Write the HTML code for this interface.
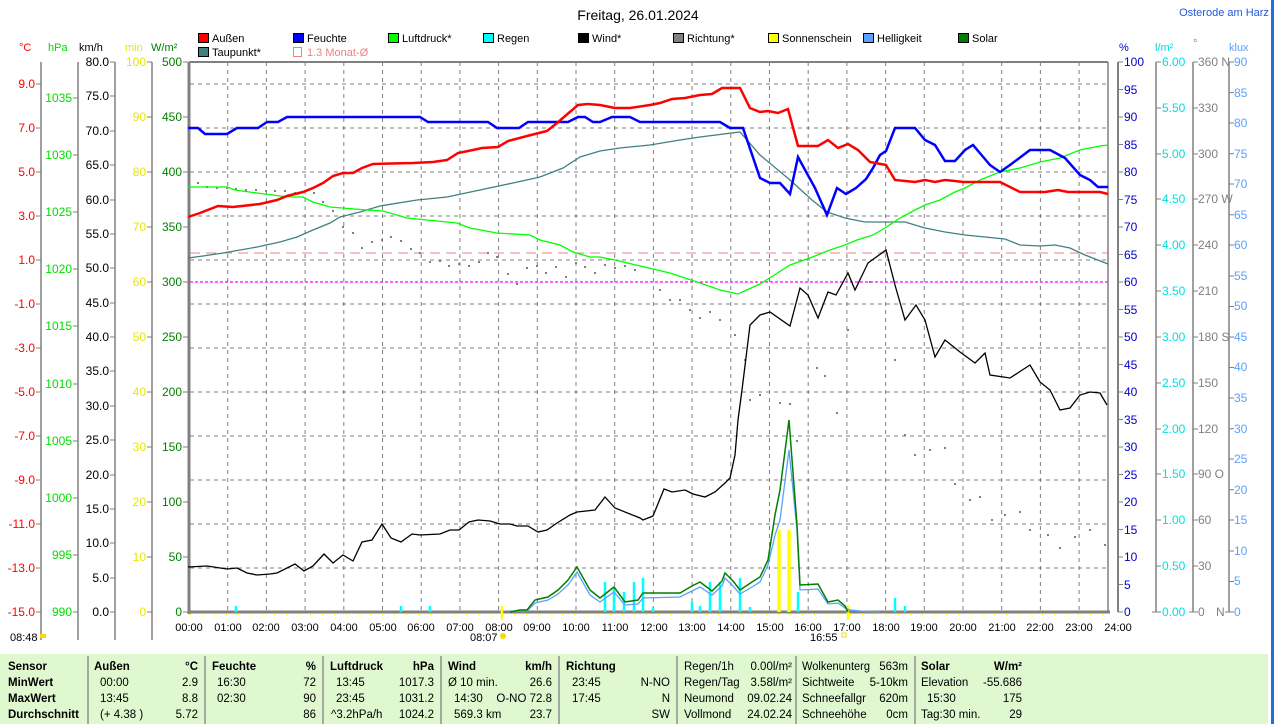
<!DOCTYPE html>
<html><head><meta charset="utf-8"><style>
html,body{margin:0;padding:0;background:#fff;}
svg{display:block;font-family:"Liberation Sans",sans-serif;}
</style></head><body>
<svg width="1274" height="724" viewBox="0 0 1274 724" xmlns="http://www.w3.org/2000/svg">
<rect x="0" y="0" width="1274" height="724" fill="#fff"/>
<rect x="1271" y="0" width="3" height="724" fill="#1e6fe0"/>
<text x="638" y="20" font-size="14" text-anchor="middle" fill="#000">Freitag, 26.01.2024</text>
<text x="1224" y="16" font-size="11" text-anchor="middle" fill="#1e5adc">Osterode am Harz</text>

<!-- legend -->
<g font-size="11" fill="#000">
<rect x="198.5" y="33.5" width="10" height="9" fill="#ff0000" stroke="#000"/><text x="212" y="42">Außen</text>
<rect x="293.5" y="33.5" width="10" height="9" fill="#0000ff" stroke="#000"/><text x="307" y="42">Feuchte</text>
<rect x="388.5" y="33.5" width="10" height="9" fill="#00ff00" stroke="#000"/><text x="402" y="42">Luftdruck*</text>
<rect x="483.5" y="33.5" width="10" height="9" fill="#00ffff" stroke="#000"/><text x="497" y="42">Regen</text>
<rect x="578.5" y="33.5" width="10" height="9" fill="#000000" stroke="#000"/><text x="592" y="42">Wind*</text>
<rect x="673.5" y="33.5" width="10" height="9" fill="#808080" stroke="#000"/><text x="687" y="42">Richtung*</text>
<rect x="768.5" y="33.5" width="10" height="9" fill="#ffff00" stroke="#000"/><text x="782" y="42">Sonnenschein</text>
<rect x="863.5" y="33.5" width="10" height="9" fill="#5aa0ff" stroke="#000"/><text x="877" y="42">Helligkeit</text>
<rect x="958.5" y="33.5" width="10" height="9" fill="#008000" stroke="#000"/><text x="972" y="42">Solar</text>
<rect x="198.5" y="47.5" width="10" height="9" fill="#408080" stroke="#000"/><text x="212" y="56">Taupunkt*</text>
<rect x="293.5" y="47.5" width="8" height="9" fill="none" stroke="#f08080"/><text x="307" y="56" fill="#f08080">1.3 Monat-Ø</text>
</g>

<!-- unit headers -->
<g font-size="11">
<text x="19" y="51" fill="#ff0000">°C</text>
<text x="48" y="51" fill="#00dd00">hPa</text>
<text x="79" y="51" fill="#000">km/h</text>
<text x="125" y="51" fill="#e8e800">min</text>
<text x="151" y="51" fill="#008000">W/m²</text>
<text x="1119" y="51" fill="#0000cc">%</text>
<text x="1155" y="51" fill="#00e0e0">l/m²</text>
<text x="1193" y="47" fill="#808080">°</text>
<text x="1229" y="51" fill="#5aa0ff">klux</text>
</g>

<!-- axis lines -->
<g stroke="#808080" stroke-width="1.5">
<line x1="41" y1="62" x2="41" y2="640"/>
<line x1="78" y1="62" x2="78" y2="640"/>
<line x1="115" y1="62" x2="115" y2="640"/>
<line x1="152" y1="62" x2="152" y2="640"/>
<line x1="1156" y1="62" x2="1156" y2="612"/>
<line x1="1193" y1="62" x2="1193" y2="612"/>
<line x1="1229" y1="62" x2="1229" y2="612"/>
</g>
<line x1="1118" y1="62" x2="1118" y2="612" stroke="#808080" stroke-width="2"/>

<!-- grid -->
<g stroke="#808080" stroke-width="1" stroke-dasharray="4,4">
<line x1="190" y1="84" x2="1108" y2="84"/><line x1="190" y1="128" x2="1108" y2="128"/>
<line x1="190" y1="172" x2="1108" y2="172"/><line x1="190" y1="216" x2="1108" y2="216"/>
<line x1="190" y1="260" x2="1108" y2="260"/><line x1="190" y1="304" x2="1108" y2="304"/>
<line x1="190" y1="348" x2="1108" y2="348"/><line x1="190" y1="392" x2="1108" y2="392"/>
<line x1="190" y1="436" x2="1108" y2="436"/><line x1="190" y1="480" x2="1108" y2="480"/>
<line x1="190" y1="524" x2="1108" y2="524"/><line x1="190" y1="568" x2="1108" y2="568"/>
<line x1="227.7" y1="62" x2="227.7" y2="612"/><line x1="266.4" y1="62" x2="266.4" y2="612"/>
<line x1="305.1" y1="62" x2="305.1" y2="612"/><line x1="343.8" y1="62" x2="343.8" y2="612"/>
<line x1="382.5" y1="62" x2="382.5" y2="612"/><line x1="421.2" y1="62" x2="421.2" y2="612"/>
<line x1="459.9" y1="62" x2="459.9" y2="612"/><line x1="498.6" y1="62" x2="498.6" y2="612"/>
<line x1="537.3" y1="62" x2="537.3" y2="612"/><line x1="576" y1="62" x2="576" y2="612"/>
<line x1="614.7" y1="62" x2="614.7" y2="612"/><line x1="653.4" y1="62" x2="653.4" y2="612"/>
<line x1="692.1" y1="62" x2="692.1" y2="612"/><line x1="730.8" y1="62" x2="730.8" y2="612"/>
<line x1="769.5" y1="62" x2="769.5" y2="612"/><line x1="808.2" y1="62" x2="808.2" y2="612"/>
<line x1="846.9" y1="62" x2="846.9" y2="612"/><line x1="885.6" y1="62" x2="885.6" y2="612"/>
<line x1="924.3" y1="62" x2="924.3" y2="612"/><line x1="963" y1="62" x2="963" y2="612"/>
<line x1="1001.7" y1="62" x2="1001.7" y2="612"/><line x1="1040.4" y1="62" x2="1040.4" y2="612"/>
<line x1="1079.1" y1="62" x2="1079.1" y2="612"/>
</g>
<line x1="190" y1="253" x2="1108" y2="253" stroke="#f08080" stroke-width="1" stroke-dasharray="10,6"/>
<line x1="190" y1="282" x2="1108" y2="282" stroke="#ff00ff" stroke-width="1.2" stroke-dasharray="3,2"/>

<!-- frame -->
<line x1="189" y1="62" x2="1108" y2="62" stroke="#808080" stroke-width="2"/>
<line x1="1108" y1="62" x2="1108" y2="612" stroke="#808080" stroke-width="1.5"/>
<line x1="189" y1="62" x2="189" y2="614" stroke="#808080" stroke-width="3"/>
<line x1="188" y1="612" x2="1110" y2="612" stroke="#808080" stroke-width="3"/>
<line x1="190" y1="614.5" x2="1108" y2="614.5" stroke="#ffff00" stroke-width="1" stroke-dasharray="1,11"/>

<!-- left tick labels -->
<g font-size="12" fill="#ff0000" text-anchor="end">
<text x="35" y="88">9.0</text><text x="35" y="132">7.0</text><text x="35" y="176">5.0</text><text x="35" y="220">3.0</text><text x="35" y="264">1.0</text><text x="35" y="308">-1.0</text><text x="35" y="352">-3.0</text><text x="35" y="396">-5.0</text><text x="35" y="440">-7.0</text><text x="35" y="484">-9.0</text><text x="35" y="528">-11.0</text><text x="35" y="572">-13.0</text><text x="35" y="616">-15.0</text>
</g>
<g stroke="#808080"><path d="M36 84h5M36 128h5M36 172h5M36 216h5M36 260h5M36 304h5M36 348h5M36 392h5M36 436h5M36 480h5M36 524h5M36 568h5M36 612h5"/>
<path d="M73 98h5M73 155h5M73 212h5M73 269h5M73 326h5M73 384h5M73 441h5M73 498h5M73 555h5M73 612h5"/>
<path d="M110 62h5M110 96h5M110 131h5M110 165h5M110 200h5M110 234h5M110 268h5M110 303h5M110 337h5M110 371h5M110 406h5M110 440h5M110 475h5M110 509h5M110 543h5M110 578h5M110 612h5"/>
<path d="M147 62h5M147 117h5M147 172h5M147 227h5M147 282h5M147 337h5M147 392h5M147 447h5M147 502h5M147 557h5M147 612h5"/>
<path d="M183 62h5M183 117h5M183 172h5M183 227h5M183 282h5M183 337h5M183 392h5M183 447h5M183 502h5M183 557h5M183 612h5"/>
</g>
<g font-size="12" fill="#00dd00" text-anchor="end">
<text x="72" y="102">1035</text><text x="72" y="159">1030</text><text x="72" y="216">1025</text><text x="72" y="273">1020</text><text x="72" y="330">1015</text><text x="72" y="388">1010</text><text x="72" y="445">1005</text><text x="72" y="502">1000</text><text x="72" y="559">995</text><text x="72" y="616">990</text>
</g>
<g font-size="12" fill="#000" text-anchor="end">
<text x="109" y="66">80.0</text><text x="109" y="100">75.0</text><text x="109" y="135">70.0</text><text x="109" y="169">65.0</text><text x="109" y="204">60.0</text><text x="109" y="238">55.0</text><text x="109" y="272">50.0</text><text x="109" y="307">45.0</text><text x="109" y="341">40.0</text><text x="109" y="375">35.0</text><text x="109" y="410">30.0</text><text x="109" y="444">25.0</text><text x="109" y="479">20.0</text><text x="109" y="513">15.0</text><text x="109" y="547">10.0</text><text x="109" y="582">5.0</text><text x="109" y="616">0.0</text>
</g>
<g font-size="12" fill="#e8e800" text-anchor="end">
<text x="146" y="66">100</text><text x="146" y="121">90</text><text x="146" y="176">80</text><text x="146" y="231">70</text><text x="146" y="286">60</text><text x="146" y="341">50</text><text x="146" y="396">40</text><text x="146" y="451">30</text><text x="146" y="506">20</text><text x="146" y="561">10</text><text x="146" y="616">0</text>
</g>
<g font-size="12" fill="#008000" text-anchor="end">
<text x="182" y="66">500</text><text x="182" y="121">450</text><text x="182" y="176">400</text><text x="182" y="231">350</text><text x="182" y="286">300</text><text x="182" y="341">250</text><text x="182" y="396">200</text><text x="182" y="451">150</text><text x="182" y="506">100</text><text x="182" y="561">50</text><text x="182" y="616">0</text>
</g>

<!-- right tick labels -->
<g stroke="#808080"><path d="M1118 62h5M1118 89.5h5M1118 117h5M1118 144.5h5M1118 172h5M1118 199.5h5M1118 227h5M1118 254.5h5M1118 282h5M1118 309.5h5M1118 337h5M1118 364.5h5M1118 392h5M1118 419.5h5M1118 447h5M1118 474.5h5M1118 502h5M1118 529.5h5M1118 557h5M1118 584.5h5M1118 612h5"/>
<path d="M1156 62h5M1156 108h5M1156 154h5M1156 199h5M1156 245h5M1156 291h5M1156 337h5M1156 383h5M1156 429h5M1156 474h5M1156 520h5M1156 566h5M1152 612h9"/>
<path d="M1193 62h5M1193 108h5M1193 154h5M1193 199h5M1193 245h5M1193 291h5M1193 337h5M1193 383h5M1193 429h5M1193 474h5M1193 520h5M1193 566h5M1189 612h9"/>
<path d="M1229 62h5M1229 92.6h5M1229 123h5M1229 153.7h5M1229 184h5M1229 214.8h5M1229 245h5M1229 276h5M1229 306.5h5M1229 337h5M1229 367.5h5M1229 398h5M1229 428.7h5M1229 459h5M1229 489.8h5M1229 520h5M1229 551h5M1229 581.5h5M1225 612h9"/>
</g>
<g font-size="12" fill="#0000cc">
<text x="1124" y="66">100</text><text x="1124" y="94">95</text><text x="1124" y="121">90</text><text x="1124" y="149">85</text><text x="1124" y="176">80</text><text x="1124" y="204">75</text><text x="1124" y="231">70</text><text x="1124" y="259">65</text><text x="1124" y="286">60</text><text x="1124" y="314">55</text><text x="1124" y="341">50</text><text x="1124" y="369">45</text><text x="1124" y="396">40</text><text x="1124" y="424">35</text><text x="1124" y="451">30</text><text x="1124" y="479">25</text><text x="1124" y="506">20</text><text x="1124" y="534">15</text><text x="1124" y="561">10</text><text x="1124" y="589">5</text><text x="1124" y="616">0</text>
</g>
<g font-size="12" fill="#00e0e0">
<text x="1162" y="66">6.00</text><text x="1162" y="112">5.50</text><text x="1162" y="158">5.00</text><text x="1162" y="203">4.50</text><text x="1162" y="249">4.00</text><text x="1162" y="295">3.50</text><text x="1162" y="341">3.00</text><text x="1162" y="387">2.50</text><text x="1162" y="433">2.00</text><text x="1162" y="478">1.50</text><text x="1162" y="524">1.00</text><text x="1162" y="570">0.50</text><text x="1162" y="616">0.00</text>
</g>
<g font-size="12" fill="#808080">
<text x="1198" y="66">360 N</text><text x="1198" y="112">330</text><text x="1198" y="158">300</text><text x="1198" y="203">270 W</text><text x="1198" y="249">240</text><text x="1198" y="295">210</text><text x="1198" y="341">180 S</text><text x="1198" y="387">150</text><text x="1198" y="433">120</text><text x="1198" y="478">90  O</text><text x="1198" y="524">60</text><text x="1198" y="570">30</text><text x="1198" y="616">0</text><text x="1216" y="616">N</text>
</g>
<g font-size="12" fill="#5aa0ff">
<text x="1234" y="66">90</text><text x="1234" y="97">85</text><text x="1234" y="127">80</text><text x="1234" y="158">75</text><text x="1234" y="188">70</text><text x="1234" y="219">65</text><text x="1234" y="249">60</text><text x="1234" y="280">55</text><text x="1234" y="310">50</text><text x="1234" y="341">45</text><text x="1234" y="371">40</text><text x="1234" y="402">35</text><text x="1234" y="433">30</text><text x="1234" y="463">25</text><text x="1234" y="494">20</text><text x="1234" y="524">15</text><text x="1234" y="555">10</text><text x="1234" y="585">5</text><text x="1234" y="616">0</text>
</g>

<!-- rain bars -->
<g stroke="#00ffff" stroke-width="2.5">
<path d="M236 612V606M401 612V606M430 612V606M605 612V582M614 612V587M624 612V592M634 612V582M643 612V578M653 612V607M692 612V602M700 612V606M710 612V582M720 612V582M740 612V578M750 612V607M798 612V592M895 612V598M905 612V606"/>
</g>
<g stroke="#ffff00" stroke-width="3.5"><path d="M779 612V530M789 612V530"/></g>
<g stroke="#ffff00" stroke-width="2.5"><path d="M502 606V620M848 606V620"/></g>

<!-- direction dots -->
<g fill="#808080">
<rect x="197" y="182" width="2" height="2"/><rect x="206" y="186" width="2" height="2"/><rect x="216" y="187" width="2" height="2"/><rect x="226" y="187" width="2" height="2"/><rect x="235" y="188" width="2" height="2"/><rect x="245" y="189" width="2" height="2"/><rect x="255" y="189" width="2" height="2"/><rect x="265" y="190" width="2" height="2"/><rect x="274" y="190" width="2" height="2"/><rect x="284" y="190" width="2" height="2"/><rect x="294" y="192" width="2" height="2"/><rect x="313" y="192" width="2" height="2"/><rect x="322" y="201" width="2" height="2"/><rect x="332" y="210" width="2" height="2"/><rect x="342" y="226" width="2" height="2"/><rect x="352" y="232" width="2" height="2"/><rect x="361" y="247" width="2" height="2"/><rect x="371" y="241" width="2" height="2"/><rect x="381" y="239" width="2" height="2"/><rect x="390" y="236" width="2" height="2"/><rect x="400" y="240" width="2" height="2"/><rect x="410" y="248" width="2" height="2"/><rect x="419" y="252" width="2" height="2"/><rect x="429" y="261" width="2" height="2"/><rect x="439" y="260" width="2" height="2"/><rect x="448" y="265" width="2" height="2"/><rect x="458" y="263" width="2" height="2"/><rect x="468" y="265" width="2" height="2"/><rect x="478" y="261" width="2" height="2"/><rect x="487" y="252" width="2" height="2"/><rect x="496" y="256" width="2" height="2"/><rect x="507" y="273" width="2" height="2"/><rect x="516" y="283" width="2" height="2"/><rect x="526" y="267" width="2" height="2"/><rect x="536" y="265" width="2" height="2"/><rect x="545" y="272" width="2" height="2"/><rect x="555" y="266" width="2" height="2"/><rect x="565" y="276" width="2" height="2"/><rect x="575" y="262" width="2" height="2"/><rect x="584" y="266" width="2" height="2"/><rect x="594" y="272" width="2" height="2"/><rect x="604" y="264" width="2" height="2"/><rect x="614" y="267" width="2" height="2"/><rect x="624" y="265" width="2" height="2"/><rect x="634" y="269" width="2" height="2"/><rect x="659" y="289" width="2" height="2"/><rect x="669" y="299" width="2" height="2"/><rect x="679" y="299" width="2" height="2"/><rect x="689" y="309" width="2" height="2"/><rect x="699" y="317" width="2" height="2"/><rect x="709" y="311" width="2" height="2"/><rect x="719" y="319" width="2" height="2"/><rect x="734" y="334" width="2" height="2"/><rect x="744" y="359" width="2" height="2"/><rect x="749" y="399" width="2" height="2"/><rect x="759" y="394" width="2" height="2"/><rect x="779" y="402" width="2" height="2"/><rect x="789" y="403" width="2" height="2"/><rect x="796" y="440" width="2" height="2"/><rect x="816" y="367" width="2" height="2"/><rect x="824" y="375" width="2" height="2"/><rect x="836" y="412" width="2" height="2"/><rect x="847" y="329" width="2" height="2"/><rect x="869" y="281" width="2" height="2"/><rect x="894" y="359" width="2" height="2"/><rect x="904" y="434" width="2" height="2"/><rect x="914" y="454" width="2" height="2"/><rect x="929" y="449" width="2" height="2"/><rect x="944" y="447" width="2" height="2"/><rect x="954" y="483" width="2" height="2"/><rect x="969" y="499" width="2" height="2"/><rect x="979" y="496" width="2" height="2"/><rect x="991" y="519" width="2" height="2"/><rect x="1004" y="514" width="2" height="2"/><rect x="1019" y="511" width="2" height="2"/><rect x="1029" y="529" width="2" height="2"/><rect x="1047" y="534" width="2" height="2"/><rect x="1059" y="547" width="2" height="2"/><rect x="1074" y="536" width="2" height="2"/><rect x="1089" y="529" width="2" height="2"/><rect x="1104" y="544" width="2" height="2"/>
</g>

<!-- Helligkeit -->
<polyline fill="none" stroke="#5aa0ff" stroke-width="1.3" points="510,612 520,611 527,611 535,603 548,600 558,594 568,585 577,572 590,595 600,602 614,592 625,605 638,604 643,598 680,597 692,591 700,587 712,595 722,586 725,578 733,586 740,594 752,587 760,582 768,565 775,535 780,520 789,450 797,530 800,590 818,589 828,604 838,603 845,608 850,610 860,611 880,612"/>
<!-- Solar -->
<polyline fill="none" stroke="#008000" stroke-width="1.5" points="510,612 520,610 527,610 535,600 548,597 558,590 568,580 577,567 590,590 600,598 614,587 625,602 638,600 643,593 680,593 692,586 700,582 712,591 722,581 725,573 733,581 740,590 752,582 760,577 768,560 775,515 780,490 789,420 797,525 800,585 818,584 828,602 838,600 845,606 848,612"/>

<!-- Taupunkt -->
<polyline fill="none" stroke="#408080" stroke-width="1.3" points="188,258 203,256 223,253 257,247 280,242 297,237 313,230 330,223 340,217 360,212 380,206 417,200 447,197 480,190 513,183 540,177 563,168 580,157 600,151 620,148 650,145 680,140 700,137 740,132 760,155 790,180 812,200 827,212 845,218 865,222 885,222 905,222 925,228 945,232 965,235 985,237 1005,239 1020,245 1040,246 1055,245 1070,248 1085,255 1108,264"/>
<!-- Luftdruck -->
<polyline fill="none" stroke="#00ff00" stroke-width="1.3" points="188,187 227,187 235,190 257,193 280,196 293,197 303,197 313,202 330,207 367,210 383,211 407,218 447,222 457,223 470,228 497,233 530,235 540,240 560,245 573,252 590,257 600,257 615,260 640,266 670,273 700,283 720,290 738,294 760,284 768,279 790,265 810,258 830,250 845,245 857,240 873,235 885,228 900,218 915,210 925,205 940,200 955,192 965,188 980,180 1000,172 1020,168 1040,162 1060,158 1080,150 1100,146 1108,145"/>
<!-- Wind -->
<polyline fill="none" stroke="#000" stroke-width="1.3" points="188,567 207,566 227,569 237,568 247,573 257,575 270,574 277,573 295,564 304,571 313,566 324,554 333,563 343,555 353,561 362,542 372,540 382,524 391,538 401,542 412,534 420,535 440,534 450,530 459,530 469,522 478,520 490,521 500,524 510,524 517,526 528,526 538,532 547,530 557,523 570,515 577,512 595,510 605,497 615,508 640,518 643,520 653,516 664,489 672,492 685,490 693,494 705,497 715,492 725,483 730,478 735,455 738,420 742,390 750,325 760,315 770,312 790,326 800,288 808,295 818,318 828,292 836,295 848,273 855,290 868,263 886,250 895,285 905,320 916,305 925,320 935,357 945,340 960,352 975,363 985,353 990,375 1010,378 1030,365 1040,382 1050,390 1060,410 1070,408 1080,395 1090,392 1100,393 1107,405"/>
<!-- Feuchte -->
<polyline fill="none" stroke="#0000ff" stroke-width="2.5" points="188,128 198,128 205,134 227,134 237,128 258,128 267,122 278,122 287,117 420,117 428,122 488,122 497,128 519,128 528,122 568,122 578,117 585,117 593,122 600,122 612,117 630,117 640,122 720,122 730,128 743,128 760,178 770,183 780,183 790,194 798,157 815,188 827,215 837,188 846,194 856,188 866,179 873,168 880,155 886,151 895,128 915,128 925,140 935,145 945,161 955,161 965,150 973,145 990,165 1000,172 1010,165 1022,156 1030,150 1050,150 1065,158 1080,175 1090,180 1098,187 1108,187"/>
<!-- Außen -->
<polyline fill="none" stroke="#ff0000" stroke-width="2.5" points="188,217 200,213 218,206 233,207 260,204 277,200 287,196 303,192 313,188 323,183 333,176 343,173 353,173 362,168 373,164 413,163 433,162 447,160 458,153 473,150 482,148 498,147 508,141 527,136 547,131 557,123 578,105 588,104 600,105 615,108 630,108 650,105 660,103 672,99 685,98 700,95 712,94 722,88 740,88 750,108 760,112 768,111 778,113 788,109 798,146 818,146 828,140 838,148 848,144 858,150 870,162 886,165 895,180 915,182 925,180 935,182 945,180 955,181 963,182 1000,182 1020,192 1045,192 1058,190 1068,192 1100,192 1108,194"/>

<!-- x labels -->
<g font-size="11" fill="#000" text-anchor="middle">
<text x="189" y="631">00:00</text><text x="228" y="631">01:00</text><text x="266" y="631">02:00</text><text x="305" y="631">03:00</text><text x="344" y="631">04:00</text><text x="383" y="631">05:00</text><text x="421" y="631">06:00</text><text x="460" y="631">07:00</text><text x="499" y="631">08:00</text><text x="537" y="631">09:00</text><text x="576" y="631">10:00</text><text x="615" y="631">11:00</text><text x="654" y="631">12:00</text><text x="692" y="631">13:00</text><text x="731" y="631">14:00</text><text x="770" y="631">15:00</text><text x="808" y="631">16:00</text><text x="847" y="631">17:00</text><text x="886" y="631">18:00</text><text x="924" y="631">19:00</text><text x="963" y="631">20:00</text><text x="1002" y="631">21:00</text><text x="1040" y="631">22:00</text><text x="1079" y="631">23:00</text><text x="1118" y="631">24:00</text>
</g>
<g font-size="11" fill="#000">
<text x="10" y="641">08:48</text><text x="470" y="641">08:07</text><text x="810" y="641">16:55</text>
</g>
<rect x="40" y="634" width="6" height="4" fill="#ffd800"/>
<circle cx="503" cy="636" r="3" fill="#ffd800"/>
<rect x="842" y="633" width="4" height="4" fill="none" stroke="#ffd800"/>

<!-- table -->
<rect x="0" y="654" width="1268" height="70" fill="#e0f8d0"/>
<g stroke="#909090" stroke-width="1.5">
<line x1="88" y1="656" x2="88" y2="724"/><line x1="205" y1="656" x2="205" y2="724"/><line x1="323" y1="656" x2="323" y2="724"/><line x1="441" y1="656" x2="441" y2="724"/><line x1="559" y1="656" x2="559" y2="724"/><line x1="677" y1="656" x2="677" y2="724"/><line x1="796" y1="656" x2="796" y2="724"/><line x1="915" y1="656" x2="915" y2="724"/>
</g>
<g font-size="11.5" fill="#000">
<g font-weight="bold">
<text x="8" y="670">Sensor</text><text x="8" y="686">MinWert</text><text x="8" y="702">MaxWert</text><text x="8" y="718">Durchschnitt</text>
<text x="94" y="670">Außen</text><text x="198" y="670" text-anchor="end">°C</text>
<text x="212" y="670">Feuchte</text><text x="316" y="670" text-anchor="end">%</text>
<text x="330" y="670">Luftdruck</text><text x="434" y="670" text-anchor="end">hPa</text>
<text x="448" y="670">Wind</text><text x="552" y="670" text-anchor="end">km/h</text>
<text x="566" y="670">Richtung</text>
<text x="921" y="670">Solar</text><text x="1022" y="670" text-anchor="end">W/m²</text>
</g>
<text x="100" y="686">00:00</text><text x="198" y="686" text-anchor="end">2.9</text>
<text x="100" y="702">13:45</text><text x="198" y="702" text-anchor="end">8.8</text>
<text x="100" y="718">(+ 4.38 )</text><text x="198" y="718" text-anchor="end">5.72</text>
<text x="217" y="686">16:30</text><text x="316" y="686" text-anchor="end">72</text>
<text x="217" y="702">02:30</text><text x="316" y="702" text-anchor="end">90</text>
<text x="316" y="718" text-anchor="end">86</text>
<text x="336" y="686">13:45</text><text x="434" y="686" text-anchor="end">1017.3</text>
<text x="336" y="702">23:45</text><text x="434" y="702" text-anchor="end">1031.2</text>
<text x="331" y="718">^3.2hPa/h</text><text x="434" y="718" text-anchor="end">1024.2</text>
<text x="448" y="686">Ø 10 min.</text><text x="552" y="686" text-anchor="end">26.6</text>
<text x="454" y="702">14:30</text><text x="552" y="702" text-anchor="end">O-NO 72.8</text>
<text x="454" y="718">569.3 km</text><text x="552" y="718" text-anchor="end">23.7</text>
<text x="572" y="686">23:45</text><text x="670" y="686" text-anchor="end">N-NO</text>
<text x="572" y="702">17:45</text><text x="670" y="702" text-anchor="end">N</text>
<text x="670" y="718" text-anchor="end">SW</text>
<text x="684" y="670">Regen/1h</text><text x="792" y="670" text-anchor="end">0.00l/m²</text>
<text x="684" y="686">Regen/Tag</text><text x="792" y="686" text-anchor="end">3.58l/m²</text>
<text x="684" y="702">Neumond</text><text x="792" y="702" text-anchor="end">09.02.24</text>
<text x="684" y="718">Vollmond</text><text x="792" y="718" text-anchor="end">24.02.24</text>
<text x="802" y="670" textLength="68" lengthAdjust="spacingAndGlyphs">Wolkenunterg</text><text x="908" y="670" text-anchor="end">563m</text>
<text x="802" y="686">Sichtweite</text><text x="908" y="686" text-anchor="end">5-10km</text>
<text x="802" y="702">Schneefallgr</text><text x="908" y="702" text-anchor="end">620m</text>
<text x="802" y="718">Schneehöhe</text><text x="908" y="718" text-anchor="end">0cm</text>
<text x="921" y="686">Elevation</text><text x="1022" y="686" text-anchor="end">-55.686</text>
<text x="927" y="702">15:30</text><text x="1022" y="702" text-anchor="end">175</text>
<text x="921" y="718">Tag:30 min.</text><text x="1022" y="718" text-anchor="end">29</text>
</g>
</svg>
</body></html>
